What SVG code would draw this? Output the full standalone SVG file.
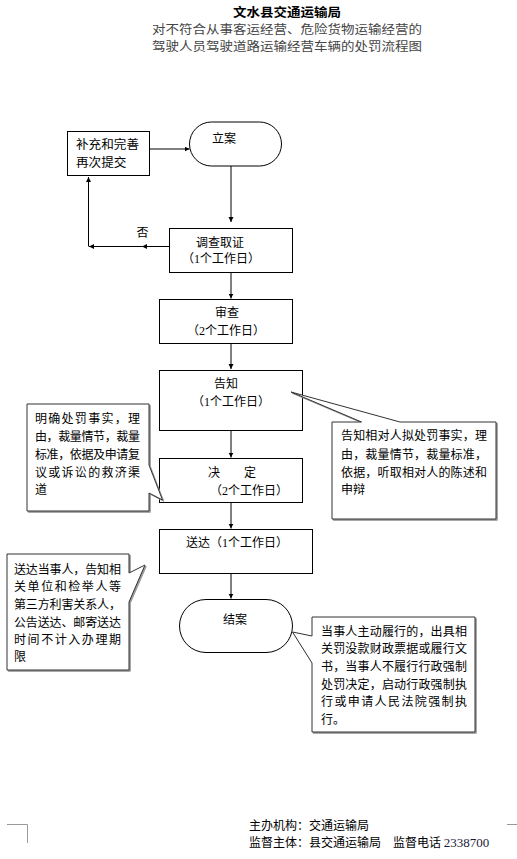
<svg xmlns="http://www.w3.org/2000/svg" width="517" height="859" viewBox="0 0 517 859">
<style>
text{font-family:"Noto Sans CJK SC","Noto Sans",sans-serif;font-size:12px;fill:#000}
.t1{font-size:12.5px;font-weight:bold}
.t2{font-size:12px;fill:#444}
.num{font-family:"Liberation Serif",serif}
.box{fill:#fff;stroke:#000;stroke-width:1}
.co{fill:#fff;stroke:#333;stroke-width:1}
.sh{fill:#9a9a9a;stroke:#9a9a9a;stroke-width:1}
.ln{fill:none;stroke:#000;stroke-width:1}
.mk{fill:none;stroke:#999;stroke-width:1}
</style>
<defs>
<marker id="ar" markerUnits="userSpaceOnUse" markerWidth="6" markerHeight="6" refX="5" refY="2.5" orient="auto">
<path d="M0,0 L5,2.5 L0,5 z" fill="#000"/>
</marker>
</defs>
<rect width="517" height="859" fill="#fff"/>

<g id="title">
<text class="t1" x="287" y="16.5" text-anchor="middle" textLength="108" lengthAdjust="spacingAndGlyphs">文水县交通运输局</text>
<text class="t2" x="287" y="34" text-anchor="middle" textLength="270" lengthAdjust="spacingAndGlyphs">对不符合从事客运经营、危险货物运输经营的</text>
<text class="t2" x="287" y="51" text-anchor="middle" textLength="270" lengthAdjust="spacingAndGlyphs">驾驶人员驾驶道路运输经营车辆的处罚流程图</text>
</g>

<g id="connectors">
<line class="ln" x1="149.5" y1="149" x2="189.5" y2="149" marker-end="url(#ar)"/>
<line class="ln" x1="231" y1="166" x2="231" y2="222" marker-end="url(#ar)"/>
<line class="ln" x1="169.5" y1="246.5" x2="142" y2="246.5" marker-end="url(#ar)"/>
<line class="ln" x1="142" y1="246.5" x2="89" y2="246.5" marker-end="url(#ar)"/>
<line class="ln" x1="88.5" y1="246.5" x2="88.5" y2="177" marker-end="url(#ar)"/>
<line class="ln" x1="231" y1="272.5" x2="231" y2="298.5" marker-end="url(#ar)"/>
<line class="ln" x1="231" y1="343.5" x2="231" y2="369" marker-end="url(#ar)"/>
<line class="ln" x1="231" y1="430.5" x2="231" y2="457.5" marker-end="url(#ar)"/>
<line class="ln" x1="231" y1="502.5" x2="231" y2="528.5" marker-end="url(#ar)"/>
<line class="ln" x1="231" y1="573.5" x2="231" y2="598.5" marker-end="url(#ar)"/>
<text x="136.5" y="236.5">否</text>
</g>

<g id="node-buchong">
<rect class="box" x="67.5" y="131.5" width="82" height="44"/>
<text x="76" y="149" textLength="63" lengthAdjust="spacingAndGlyphs">补充和完善</text>
<text x="76" y="167" textLength="50.5" lengthAdjust="spacingAndGlyphs">再次提交</text>
</g>

<g id="node-lian">
<rect class="box" x="189.5" y="122" width="92" height="44" rx="22" ry="22"/>
<text x="212" y="143">立案</text>
</g>

<g id="node-diaocha">
<rect class="box" x="169.5" y="228.5" width="123" height="44"/>
<text x="196" y="247">调查取证</text>
<text x="182" y="263">（<tspan class="num">1</tspan>个工作日）</text>
</g>

<g id="node-shencha">
<rect class="box" x="159.5" y="299.5" width="133" height="44"/>
<text x="215" y="317">审查</text>
<text x="187" y="335">（<tspan class="num">2</tspan>个工作日）</text>
</g>

<g id="node-gaozhi">
<rect class="box" x="159.5" y="370.5" width="143" height="60"/>
<text x="214" y="388">告知</text>
<text x="192" y="405.5">（<tspan class="num">1</tspan>个工作日）</text>
</g>

<g id="node-jueding">
<rect class="box" x="159.5" y="458.5" width="143" height="44"/>
<text x="208" y="477">决　　定</text>
<text x="210" y="494.5">（<tspan class="num">2</tspan>个工作日）</text>
</g>

<g id="node-songda">
<rect class="box" x="159.5" y="529.5" width="153" height="44"/>
<text x="186" y="547">送达（<tspan class="num">1</tspan>个工作日）</text>
</g>

<g id="node-jiean">
<rect class="box" x="179.5" y="599.5" width="113" height="53" rx="26.5" ry="26.5"/>
<text x="223" y="624">结案</text>
</g>

<g id="callout-jueding">
<path class="sh" transform="translate(1.3,1.3)" d="M27,404 H149 V465 L162.5,500 L149,493 V511 H27 Z"/>
<path class="co" d="M27,404 H149 V465 L162.5,500 L149,493 V511 H27 Z"/>
<text x="35" y="423" textLength="105" lengthAdjust="spacing">明确处罚事实，理</text>
<text x="35" y="441" textLength="105" lengthAdjust="spacing">由，裁量情节，裁量</text>
<text x="35" y="458.5" textLength="105" lengthAdjust="spacing">标准，依据及申请复</text>
<text x="35" y="477" textLength="105" lengthAdjust="spacing">议或诉讼的救济渠</text>
<text x="35" y="494">道</text>
</g>

<g id="callout-gaozhi">
<path class="sh" transform="translate(1.3,1.3)" d="M332,422 H361.5 L291,392 L400,422 H496 V519 H332 Z"/>
<path class="co" d="M332,422 H361.5 L291,392 L400,422 H496 V519 H332 Z"/>
<text x="341" y="440" textLength="146" lengthAdjust="spacing">告知相对人拟处罚事实，理</text>
<text x="341" y="458.5" textLength="146" lengthAdjust="spacing">由，裁量情节，裁量标准，</text>
<text x="341" y="477" textLength="146" lengthAdjust="spacing">依据，听取相对人的陈述和</text>
<text x="341" y="494">申辩</text>
</g>

<g id="callout-songda">
<path class="sh" transform="translate(1.3,1.3)" d="M7,554 H129 V573 L145,565 L129,602 V670 H7 Z"/>
<path class="co" d="M7,554 H129 V573 L145,565 L129,602 V670 H7 Z"/>
<text x="14" y="574" textLength="107" lengthAdjust="spacing">送达当事人，告知相</text>
<text x="14" y="591" textLength="107" lengthAdjust="spacing">关单位和检举人等</text>
<text x="14" y="608.5" textLength="107" lengthAdjust="spacing">第三方利害关系人，</text>
<text x="14" y="627" textLength="107" lengthAdjust="spacing">公告送达、邮寄送达</text>
<text x="14" y="644" textLength="107" lengthAdjust="spacing">时间不计入办理期</text>
<text x="14" y="661">限</text>
</g>

<g id="callout-jiean">
<path class="sh" transform="translate(1.3,1.3)" d="M312,617 H475 V732 H312 V663 L292.5,632 L312,636 Z"/>
<path class="co" d="M312,617 H475 V732 H312 V663 L292.5,632 L312,636 Z"/>
<text x="321" y="635.5" textLength="146" lengthAdjust="spacing">当事人主动履行的，出具相</text>
<text x="321" y="653" textLength="146" lengthAdjust="spacing">关罚没款财政票据或履行文</text>
<text x="321" y="670.5" textLength="146" lengthAdjust="spacing">书，当事人不履行行政强制</text>
<text x="321" y="688.5" textLength="146" lengthAdjust="spacing">处罚决定，启动行政强制执</text>
<text x="321" y="706" textLength="146" lengthAdjust="spacing">行或申请人民法院强制执</text>
<text x="321" y="724">行。</text>
</g>

<g id="footer">
<text x="249" y="829.5">主办机构：交通运输局</text>
<text x="249" y="847">监督主体：县交通运输局　监督电话 <tspan class="num" font-size="13" fill="#1a1a3a">2338700</tspan></text>
<path class="mk" d="M7,824.5 H27.5 V843 M507,824.5 H517"/>
</g>
</svg>
